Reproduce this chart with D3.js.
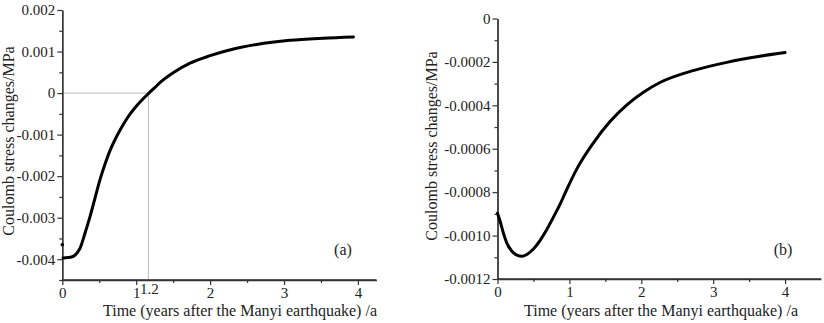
<!DOCTYPE html>
<html><head><meta charset="utf-8">
<script src="https://cdn.jsdelivr.net/npm/d3@7"></script>
<style>
body{margin:0;background:#fff;}
text{font-family:"Liberation Serif","Times New Roman",serif;fill:#222;}
</style></head>
<body><svg id="c" width="824" height="323"></svg>
<script>
// ---- data ----
const xTicks = [0, 1, 2, 3, 4];
const xTickLabels = ["0", "1", "2", "3", "4"];
const aYTicks = [0.002, 0.001, 0, -0.001, -0.002, -0.003, -0.004];
const aYTickLabels = ["0.002", "0.001", "0", "-0.001", "-0.002", "-0.003", "-0.004"];
const bYTicks = [0, -0.0002, -0.0004, -0.0006, -0.0008, -0.0010, -0.0012];
const bYTickLabels = ["0", "-0.0002", "-0.0004", "-0.0006", "-0.0008", "-0.0010", "-0.0012"];
const aFirstPoint = [0, -0.00365];
const aTime = [0.01, 0.08, 0.148, 0.194, 0.239, 0.306, 0.374, 0.441, 0.509, 0.576, 0.644, 0.711, 0.801, 0.891, 0.981, 1.071, 1.161, 1.25, 1.34, 1.5, 1.728, 2.0, 2.25, 2.63, 3.08, 3.53, 3.94];
const aStress = [-0.00397, -0.00396, -0.00393, -0.00386, -0.00374, -0.00338, -0.00298, -0.00254, -0.00209, -0.00172, -0.00139, -0.00113, -0.00083, -0.00057, -0.00036, -0.00018, -0.00002, 0.00013, 0.00028, 0.00049, 0.00072, 0.0009, 0.00103, 0.00117, 0.00127, 0.00132, 0.00135];
const bTime = [0, 0.037, 0.083, 0.13, 0.2, 0.27, 0.339, 0.408, 0.5, 0.593, 0.686, 0.778, 0.871, 0.96, 1.10, 1.33, 1.565, 1.80, 2.03, 2.26, 2.72, 3.19, 3.65, 4.0];
const bStress = [-0.000897, -0.000935, -0.00099, -0.001035, -0.001072, -0.00109, -0.001095, -0.001087, -0.001062, -0.001022, -0.000972, -0.000915, -0.000855, -0.00079, -0.000695, -0.000575, -0.000475, -0.000398, -0.00034, -0.000295, -0.00024, -0.000202, -0.000174, -0.000157];
const zeroCrossTime = 1.165;
const zeroCrossLabel = "1.2";
const xTitle = "Time (years after the Manyi earthquake) /a";
const yTitle = "Coulomb stress changes/MPa";

const svg = d3.select("#c");

function panel(o) {
  const g = svg.append("g");
  const x = d3.scaleLinear().domain(o.xDom).range(o.xRange);
  const y = d3.scaleLinear().domain(o.yDom).range(o.yRange);
  const axisCol = "#333";

  if (o.ref) {
    g.append("line").attr("x1", x(0)).attr("x2", x(o.ref)).attr("y1", y(0)).attr("y2", y(0))
      .attr("stroke", "#bbb").attr("stroke-width", 1);
    g.append("line").attr("x1", x(o.ref)).attr("x2", x(o.ref)).attr("y1", y(0)).attr("y2", y(o.yDom[0]))
      .attr("stroke", "#bbb").attr("stroke-width", 1);
  }

  const xa = g.append("g").attr("transform", `translate(0,${o.yRange[0]})`)
    .call(d3.axisBottom(x).tickValues(xTicks).tickFormat((d, i) => xTickLabels[i]).tickSize(5).tickPadding(2));
  const xm = g.append("g").attr("transform", `translate(0,${o.yRange[0]})`)
    .call(d3.axisBottom(x).tickValues(d3.range(0.5, o.xDom[1], 1)).tickFormat("").tickSize(3).tickSizeOuter(0));
  const ya = g.append("g").attr("transform", `translate(${o.xRange[0]},0)`)
    .call(d3.axisLeft(y).tickValues(o.yTicks).tickFormat((d, i) => o.yLabels[i]).tickSize(5).tickPadding(2).tickSizeOuter(0));
  const ym = g.append("g").attr("transform", `translate(${o.xRange[0]},0)`)
    .call(d3.axisLeft(y).tickValues(o.yMinor).tickFormat("").tickSize(3).tickSizeOuter(0));
  [xa, xm, ya, ym].forEach(a => {
    a.select(".domain").attr("stroke", axisCol).attr("stroke-width", 1.3);
    a.selectAll(".tick line").attr("stroke", axisCol).attr("stroke-width", 1.2);
    a.selectAll("text").attr("font-size", 15).attr("fill", "#222")
      .style("font-family", '"Liberation Serif","Times New Roman",serif');
  });
  xa.select(".domain").attr("d", `M${o.xRange[0]},0H${o.xRange[1]}`);

  if (o.ref) {
    g.append("text").attr("x", x(o.ref) + 1).attr("y", o.yRange[0] + 14).attr("text-anchor", "middle")
      .attr("font-size", 15).text(zeroCrossLabel);
  }

  const pts = o.t.map((t, i) => [t, o.v[i]]);
  const line = d3.line().x(d => x(d[0])).y(d => y(d[1])).curve(d3.curveMonotoneX);
  g.append("path").attr("d", line(pts)).attr("fill", "none").attr("stroke", "#000")
    .attr("stroke-width", 3).attr("stroke-linecap", "round").attr("stroke-linejoin", "round");
  if (o.first) {
    g.append("circle").attr("cx", x(o.first[0])).attr("cy", y(o.first[1])).attr("r", 1.8).attr("fill", "#000");
  }

  g.append("text").attr("x", o.xTitleX).attr("y", 316).attr("text-anchor", "middle")
    .attr("font-size", 16).text(xTitle);
  g.append("text").attr("transform", `translate(${o.yTitleX},${o.yTitleY}) rotate(-90)`)
    .attr("text-anchor", "middle").attr("font-size", 16).text(yTitle);
  g.append("text").attr("x", o.tagX).attr("y", 255).attr("text-anchor", "middle")
    .attr("font-size", 16).text(o.tag);
}

panel({
  xDom: [0, 4.25], xRange: [62.3, 376.4],
  yDom: [-0.0045, 0.002], yRange: [280, 10],
  yTicks: aYTicks, yLabels: aYTickLabels,
  yMinor: d3.range(-0.0045, 0.002, 0.001).map(v => +v.toFixed(4)),
  t: aTime, v: aStress, first: aFirstPoint, ref: zeroCrossTime,
  xTitleX: 240, yTitleX: 14, yTitleY: 141, tag: "(a)", tagX: 343
});
panel({
  xDom: [0, 4.5], xRange: [497.5, 821],
  yDom: [-0.0012, 0], yRange: [279, 18.5],
  yTicks: bYTicks, yLabels: bYTickLabels,
  yMinor: d3.range(-0.0011, 0, 0.0002).map(v => +v.toFixed(4)),
  t: bTime, v: bStress,
  xTitleX: 661, yTitleX: 437, yTitleY: 146, tag: "(b)", tagX: 783
});
</script></body></html>
